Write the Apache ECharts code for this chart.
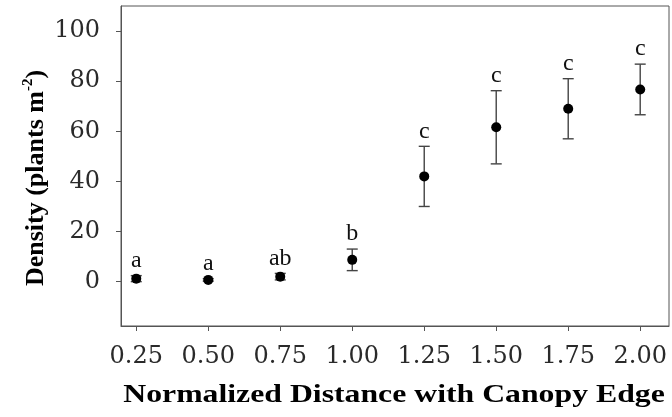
<!DOCTYPE html>
<html>
<head>
<meta charset="utf-8">
<script src="https://cdn.jsdelivr.net/npm/echarts@6/dist/echarts.min.js"></script>
<style>
html,body{margin:0;padding:0;background:#fff;}
#chart{width:672px;height:417px;}
</style>
</head>
<body>
<div id="chart"></div>
<script>
// ---- data ----
var distances = [0.25, 0.50, 0.75, 1.00, 1.25, 1.50, 1.75, 2.00];
var densityMean = [1.2, 0.7, 2.0, 8.7, 42.0, 61.6, 69.0, 76.7];
var densityErr = [1.2, 0.5, 1.3, 4.3, 12.0, 14.6, 12.0, 10.1];
var groupLetters = ['a', 'a', 'ab', 'b', 'c', 'c', 'c', 'c'];
var xTicks = [0.25, 0.50, 0.75, 1.00, 1.25, 1.50, 1.75, 2.00];
var yTicks = [0, 20, 40, 60, 80, 100];
var xTitle = 'Normalized Distance with Canopy Edge';

var chart = echarts.init(document.getElementById('chart'));

var points = distances.map(function (x, i) { return [x, densityMean[i]]; });
var bars = distances.map(function (x, i) { return [x, densityMean[i] - densityErr[i], densityMean[i] + densityErr[i]]; });
var letterData = distances.map(function (x, i) { return [x, densityMean[i] + densityErr[i], i]; });

var lineColor = '#444';
var tickFont = '"DejaVu Serif", serif';

var option = {
  animation: false,
  backgroundColor: '#ffffff',
  grid: {
    left: 121, right: 3, top: 6, bottom: 91,
    show: true, borderColor: '#555', borderWidth: 1, backgroundColor: 'transparent'
  },
  xAxis: {
    type: 'value',
    min: 0.197, max: 2.1,
    axisLine: { show: true, onZero: false, lineStyle: { color: '#555', width: 1 } },
    axisTick: { show: true, inside: false, length: 5, customValues: xTicks, lineStyle: { color: '#555' } },
    axisLabel: {
      customValues: xTicks,
      formatter: function (v) { return Number(v).toFixed(2); },
      fontFamily: tickFont, fontSize: 24, color: '#2a2a2a', margin: 19
    },
    splitLine: { show: false }
  },
  yAxis: {
    type: 'value',
    min: -17.7, max: 110,
    axisLine: { show: true, onZero: false, lineStyle: { color: '#555', width: 1 } },
    axisTick: { show: true, inside: false, length: 5, customValues: yTicks, lineStyle: { color: '#555' } },
    axisLabel: {
      customValues: yTicks,
      fontFamily: tickFont, fontSize: 24, color: '#2a2a2a', margin: 21
    },
    splitLine: { show: false }
  },
  graphic: [
    {
      type: 'text',
      x: 394, y: 396,
      scaleX: 1.27,
      style: {
        text: xTitle,
        font: 'bold 25px "Liberation Serif"',
        fill: '#000',
        align: 'center',
        verticalAlign: 'middle'
      }
    },
    {
      type: 'text',
      x: 36, y: 178,
      rotation: Math.PI / 2,
      style: {
        text: '{b|Density (plants m}{s|-2}{b|)}',
        align: 'center',
        verticalAlign: 'middle',
        fill: '#000',
        rich: {
          b: { fontFamily: 'Liberation Serif', fontWeight: 'bold', fontSize: 26, lineHeight: 30, fill: '#000' },
          s: { fontFamily: 'Liberation Serif', fontWeight: 'bold', fontSize: 15, lineHeight: 30, verticalAlign: 'top', fill: '#000' }
        }
      }
    }
  ],
  series: [
    {
      type: 'custom',
      name: 'error',
      data: bars,
      z: 2,
      renderItem: function (params, api) {
        var x = api.value(0);
        var pLo = api.coord([x, api.value(1)]);
        var pHi = api.coord([x, api.value(2)]);
        var w = 5.5;
        var st = { stroke: lineColor, lineWidth: 1.4 };
        return {
          type: 'group',
          children: [
            { type: 'line', shape: { x1: pHi[0], y1: pHi[1], x2: pLo[0], y2: pLo[1] }, style: st },
            { type: 'line', shape: { x1: pHi[0] - w, y1: pHi[1], x2: pHi[0] + w, y2: pHi[1] }, style: st },
            { type: 'line', shape: { x1: pLo[0] - w, y1: pLo[1], x2: pLo[0] + w, y2: pLo[1] }, style: st }
          ]
        };
      }
    },
    {
      type: 'scatter',
      name: 'density',
      data: points,
      symbol: 'circle',
      symbolSize: 10,
      z: 3,
      itemStyle: { color: '#000', opacity: 1 }
    },
    {
      type: 'custom',
      name: 'letters',
      data: letterData,
      z: 4,
      renderItem: function (params, api) {
        var p = api.coord([api.value(0), api.value(1)]);
        var idx = api.value(2);
        return {
          type: 'text',
          x: p[0],
          y: p[1] - 3,
          style: {
            text: groupLetters[idx],
            font: '24px "Liberation Serif"',
            fill: '#111',
            align: 'center',
            verticalAlign: 'bottom'
          }
        };
      }
    }
  ]
};

chart.setOption(option);
</script>
</body>
</html>
